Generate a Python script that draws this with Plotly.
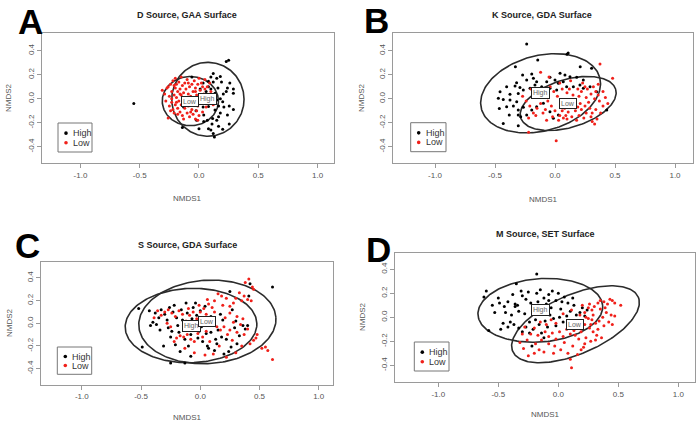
import numpy as np
import plotly.graph_objects as go

W, H = 700, 424
FONT = "Liberation Sans, Arial, sans-serif"

titles = ["D Source, GAA Surface", "K Source, GDA Surface",
          "S Source, GDA Surface", "M Source, SET Surface"]
letters = ["A", "B", "C", "D"]
groups = ["High", "Low"]
x_ticks = [-1.0, -0.5, 0.0, 0.5, 1.0]
y_ticks = [-0.4, -0.2, 0.0, 0.2, 0.4]

# ---------------- data (NMDS1, NMDS2) ----------------
a_high = [(-0.55, -0.04), (0.23, 0.31), (0.25, 0.32), (0.12, 0.21), (0.10, 0.18), (0.15, 0.17),
          (0.12, 0.14), (0.19, 0.14), (0.26, 0.13), (0.29, 0.08), (0.24, 0.09), (0.16, 0.09),
          (0.08, 0.10), (0.06, 0.06), (0.135, 0.045), (0.18, 0.0), (0.20, -0.025), (0.165, -0.06),
          (0.21, -0.07), (0.255, -0.06), (0.29, -0.09), (0.24, -0.135), (0.18, -0.12), (0.135, -0.095),
          (0.15, -0.18), (0.11, -0.21), (0.04, -0.135), (0.07, -0.18), (0.0, -0.25), (0.08, -0.25),
          (0.10, -0.26), (0.165, -0.23), (0.20, -0.255), (0.255, -0.21), (0.12, -0.29), (0.13, -0.32),
          (-0.14, -0.24), (-0.06, 0.18), (-0.13, -0.07), (-0.06, -0.045), (0.035, -0.07), (0.08, -0.065),
          (0.065, -0.01), (0.105, -0.025), (0.01, 0.08), (0.035, 0.13), (0.08, 0.145), (0.18, 0.185),
          (0.23, 0.06), (0.15, -0.01), (0.205, 0.04), (0.10, 0.08), (0.115, -0.165), (0.04, -0.19),
          (0.29, 0.045), (-0.025, -0.10), (0.12, 0.015), (0.165, -0.15), (-0.02, -0.18), (0.05, 0.02)]
a_low = [(-0.31, 0.07), (-0.29, 0.04), (-0.27, 0.09), (-0.26, -0.16), (-0.25, 0.02), (-0.25, -0.06),
         (-0.24, 0.12), (-0.23, 0.06), (-0.23, -0.03), (-0.22, -0.09), (-0.22, 0.15), (-0.21, 0.03),
         (-0.21, -0.12), (-0.20, 0.09), (-0.20, -0.05), (-0.19, 0.12), (-0.19, 0.01), (-0.18, -0.08),
         (-0.18, 0.06), (-0.17, -0.02), (-0.17, 0.14), (-0.16, 0.08), (-0.16, -0.11), (-0.15, 0.03),
         (-0.15, -0.05), (-0.14, 0.11), (-0.14, -0.14), (-0.13, 0.05), (-0.13, -0.03), (-0.12, 0.13),
         (-0.12, -0.08), (-0.11, 0.01), (-0.11, 0.08), (-0.10, -0.12), (-0.10, 0.16), (-0.09, 0.04),
         (-0.09, -0.06), (-0.08, 0.10), (-0.08, -0.15), (-0.07, 0.02), (-0.07, -0.02), (-0.06, 0.12),
         (-0.06, -0.09), (-0.05, 0.06), (-0.05, -0.13), (-0.04, 0.15), (-0.04, -0.04), (-0.03, 0.09),
         (-0.03, -0.17), (-0.02, 0.03), (-0.02, -0.10), (-0.01, 0.12), (-0.01, -0.06), (0.00, 0.17),
         (0.00, -0.14), (0.01, 0.07), (0.02, -0.02), (0.02, 0.13), (0.03, -0.11), (0.04, 0.04),
         (0.05, 0.16), (0.06, -0.07), (0.07, 0.10), (0.08, -0.03), (0.10, 0.06), (0.12, -0.05),
         (-0.24, -0.10), (-0.26, 0.10), (-0.20, 0.17), (-0.18, -0.13), (-0.15, 0.18), (-0.13, -0.17),
         (-0.11, -0.02), (-0.09, 0.13), (-0.07, -0.11), (-0.05, 0.00), (-0.03, 0.06), (-0.16, 0.04),
         (-0.14, -0.01), (-0.19, -0.03), (-0.21, 0.11), (0.05, 0.08), (-0.01, -0.18), (0.09, 0.13),
         (-0.28, -0.02), (-0.23, 0.00), (0.03, 0.10)]

b_high = [(-0.236, 0.455), (0.11, 0.38), (0.10, 0.37), (-0.144, 0.322), (-0.33, 0.267), (0.21, 0.267),
          (0.305, 0.253), (-0.27, 0.197), (-0.194, 0.205), (-0.18, 0.17), (-0.236, 0.155),
          (-0.32, 0.133), (-0.333, 0.106), (-0.292, 0.094), (-0.403, 0.10), (-0.458, 0.058),
          (-0.375, 0.036), (-0.306, 0.044), (-0.264, 0.072), (-0.208, 0.086), (-0.167, 0.114),
          (-0.153, 0.142), (0.042, 0.211), (0.083, 0.197), (0.125, 0.183), (0.181, 0.178),
          (-0.042, 0.178), (0.0, 0.156), (0.028, 0.128), (0.069, 0.142), (-0.069, 0.142),
          (-0.111, 0.10), (-0.042, 0.086), (0.014, 0.072), (0.097, 0.10), (0.153, 0.10),
          (0.208, 0.114), (0.236, 0.086), (-0.472, 0.003), (-0.431, -0.006), (-0.375, -0.011),
          (-0.319, -0.025), (-0.464, -0.081), (-0.403, -0.067), (-0.347, -0.061), (-0.306, -0.094),
          (-0.264, -0.072), (-0.381, -0.136), (-0.306, -0.136), (-0.431, -0.206), (-0.306, -0.225),
          (-0.286, -0.15), (-0.236, -0.136), (-0.194, -0.094), (-0.153, -0.067), (-0.097, -0.039),
          (-0.042, -0.108), (-0.014, -0.164), (0.028, -0.136), (0.069, -0.053), (0.139, -0.011),
          (0.431, -0.094), (0.292, 0.10), (0.347, 0.058), (0.236, 0.156)]
b_low = [(0.375, 0.29), (0.48, 0.17), (0.01, -0.35), (-0.22, -0.28), (0.33, -0.21), (0.31, -0.19),
         (0.35, -0.17), (0.30, -0.15), (0.38, -0.12), (0.34, -0.09), (0.40, -0.06), (0.42, 0.01),
         (0.40, 0.06), (0.36, 0.03), (0.33, 0.00), (0.30, 0.04), (0.27, 0.08), (0.25, 0.10),
         (0.22, 0.06), (0.20, 0.02), (0.28, -0.03), (0.25, -0.06), (0.22, -0.09), (0.26, -0.12),
         (0.20, -0.14), (0.17, -0.10), (0.15, -0.06), (0.12, -0.02), (0.10, 0.05), (0.06, 0.08),
         (0.04, 0.13), (0.02, 0.02), (0.05, -0.04), (0.08, -0.08), (0.11, -0.11), (0.14, -0.15),
         (0.10, -0.17), (0.04, -0.14), (0.00, -0.10), (-0.03, -0.06), (-0.06, -0.02), (-0.09, 0.02),
         (-0.12, -0.04), (-0.15, -0.08), (-0.18, -0.12), (-0.21, -0.06), (-0.24, -0.02), (-0.27, 0.02),
         (-0.22, -0.16), (-0.16, -0.14), (-0.10, -0.12), (-0.07, -0.18), (-0.02, -0.15), (0.03, -0.18),
         (0.07, -0.16), (0.16, -0.03), (0.19, 0.08), (0.23, 0.13), (0.13, 0.15), (-0.05, 0.18),
         (-0.12, 0.22), (0.32, 0.10), (0.18, -0.18), (0.24, -0.16), (0.29, -0.08), (0.37, -0.02),
         (0.44, -0.04), (0.36, 0.12), (0.12, 0.08), (-0.01, 0.06), (-0.04, 0.10), (-0.08, -0.09),
         (0.06, -0.10), (0.21, -0.04), (0.31, -0.12), (0.26, 0.01), (0.15, 0.03), (-0.17, 0.04),
         (-0.20, 0.08), (0.09, -0.14), (0.19, -0.07), (0.34, 0.06)]

c_high = [(0.61, 0.32), (-0.49, -0.21), (-0.52, 0.13), (-0.25, -0.35), (-0.13, -0.35), (-0.08, -0.29),
          (-0.43, 0.11), (-0.40, 0.01), (-0.37, -0.01), (-0.34, -0.06), (-0.38, 0.09), (-0.33, 0.12),
          (-0.30, 0.08), (-0.28, 0.03), (-0.27, -0.04), (-0.25, -0.12), (-0.23, 0.10), (-0.22, 0.16),
          (-0.20, 0.05), (-0.19, -0.02), (-0.18, -0.08), (-0.16, 0.12), (-0.15, 0.03), (-0.14, -0.06),
          (-0.13, -0.14), (-0.12, 0.18), (-0.11, 0.09), (-0.10, -0.03), (-0.09, 0.01), (-0.08, -0.10),
          (-0.06, 0.14), (-0.05, -0.05), (-0.04, 0.18), (-0.03, 0.07), (-0.02, -0.13), (0.00, 0.11),
          (0.01, -0.03), (0.02, -0.16), (0.04, 0.15), (0.06, -0.20), (0.07, -0.22), (0.09, -0.08),
          (0.10, 0.05), (0.12, -0.24), (0.14, -0.18), (0.15, -0.06), (0.17, 0.08), (0.18, -0.12),
          (0.20, -0.27), (0.22, -0.14), (0.25, 0.28), (0.26, -0.21), (0.27, 0.12), (0.29, -0.04),
          (0.31, -0.18), (0.33, -0.11), (0.36, -0.02), (0.40, -0.02), (0.41, 0.24), (0.42, 0.35),
          (0.38, -0.05), (-0.31, -0.20), (-0.21, -0.19), (-0.17, -0.25), (-0.10, -0.20), (-0.26, 0.14),
          (-0.35, 0.05), (-0.24, -0.07), (0.05, -0.09), (0.13, -0.14), (0.24, -0.25), (0.09, 0.06),
          (-0.07, 0.04), (-0.01, -0.07), (-0.42, -0.02), (0.30, 0.02), (0.19, 0.03)]
c_low = [(0.41, 0.39), (0.38, 0.36), (0.44, 0.32), (0.43, 0.20), (0.40, 0.21), (0.37, 0.24),
         (0.35, 0.20), (0.33, 0.27), (0.30, 0.22), (0.28, 0.18), (0.25, 0.15), (0.22, 0.22),
         (0.18, 0.24), (0.15, 0.26), (0.12, 0.20), (0.10, 0.14), (0.07, 0.17), (0.05, 0.08),
         (0.03, 0.13), (0.00, 0.10), (-0.03, 0.04), (-0.06, 0.10), (-0.09, 0.07), (-0.12, 0.02),
         (-0.15, 0.08), (-0.18, 0.11), (-0.21, 0.06), (-0.24, 0.09), (-0.27, 0.12), (-0.30, 0.10),
         (-0.33, 0.07), (-0.36, 0.11), (-0.39, 0.05), (-0.28, 0.00), (-0.25, -0.03), (-0.20, -0.13),
         (-0.17, -0.11), (-0.14, -0.12), (-0.11, -0.10), (-0.08, -0.14), (-0.05, -0.16), (-0.02, -0.09),
         (0.02, -0.12), (0.05, -0.07), (0.08, -0.02), (0.11, 0.00), (0.14, -0.03), (0.17, -0.06),
         (0.20, -0.03), (0.23, -0.10), (0.25, -0.06), (0.28, 0.01), (0.31, -0.08), (0.34, -0.01),
         (0.37, -0.10), (0.40, -0.05), (0.45, -0.15), (0.47, -0.13), (0.42, -0.18), (0.52, -0.22),
         (0.55, -0.21), (0.57, -0.24), (0.61, -0.32), (0.35, -0.20), (0.30, -0.26), (0.22, -0.30),
         (0.11, -0.27), (0.04, -0.28), (-0.05, -0.26), (-0.13, -0.22), (-0.22, -0.16), (0.16, -0.20),
         (0.21, 0.05), (0.31, 0.06), (0.36, 0.04), (0.12, 0.10), (-0.01, 0.16), (0.06, 0.21),
         (0.19, 0.16), (0.25, 0.09), (0.45, 0.30), (0.48, -0.10), (-0.10, 0.13), (0.08, -0.16),
         (0.27, -0.15)]

d_high = [(-0.18, 0.36), (-0.60, 0.22), (-0.62, 0.17), (-0.58, -0.11), (-0.35, 0.28), (-0.22, -0.24),
          (-0.50, 0.16), (-0.49, 0.12), (-0.45, 0.09), (-0.42, 0.13), (-0.38, 0.19), (-0.36, 0.11),
          (-0.36, 0.09), (-0.34, 0.10), (-0.33, 0.05), (-0.30, 0.18), (-0.27, 0.15), (-0.25, 0.21),
          (-0.23, 0.12), (-0.20, 0.09), (-0.18, 0.20), (-0.15, 0.23), (-0.12, 0.16), (-0.10, 0.11),
          (-0.08, 0.19), (-0.05, 0.22), (-0.02, 0.14), (0.00, 0.20), (0.02, 0.07), (0.05, 0.17),
          (0.08, 0.12), (0.10, 0.05), (0.13, 0.10), (0.15, 0.02), (0.18, 0.04), (0.20, 0.08),
          (0.22, 0.01), (-0.46, -0.05), (-0.42, -0.08), (-0.40, -0.04), (-0.37, -0.06), (-0.33, -0.09),
          (-0.30, -0.12), (-0.27, -0.08), (-0.24, -0.04), (-0.21, -0.10), (-0.19, -0.02), (-0.16, -0.06),
          (-0.14, -0.13), (-0.11, -0.03), (-0.09, -0.08), (-0.07, 0.02), (-0.04, -0.01), (-0.02, -0.07),
          (0.01, 0.00), (0.04, -0.04), (-0.53, 0.04), (-0.48, -0.10), (-0.55, 0.10), (-0.28, 0.03),
          (-0.13, 0.05), (-0.06, 0.08), (0.12, 0.16), (-0.39, 0.02), (-0.31, 0.22), (0.07, 0.01),
          (-0.17, 0.13), (-0.24, -0.13), (-0.12, -0.17), (0.03, 0.13), (-0.44, 0.04), (-0.08, 0.14),
          (0.24, 0.06)]
d_low = [(0.11, -0.42), (0.52, 0.10), (0.45, 0.14), (0.43, 0.15), (0.47, 0.12), (0.41, 0.11),
         (0.38, 0.13), (0.35, 0.14), (0.33, 0.12), (0.30, 0.09), (0.28, 0.06), (0.25, 0.08),
         (0.22, 0.04), (0.20, 0.10), (0.40, 0.04), (0.44, 0.02), (0.47, 0.01), (0.37, 0.00),
         (0.34, -0.03), (0.31, -0.05), (0.28, -0.02), (0.25, -0.01), (0.22, -0.06), (0.26, -0.09),
         (0.29, -0.12), (0.33, -0.10), (0.38, -0.07), (0.42, -0.04), (0.45, -0.06), (0.36, -0.17),
         (0.31, -0.19), (0.27, -0.20), (0.23, -0.17), (0.19, -0.12), (0.16, -0.08), (0.13, -0.11),
         (0.10, -0.14), (0.07, -0.10), (0.04, -0.16), (0.01, -0.12), (-0.02, -0.18), (-0.05, -0.13),
         (-0.08, -0.16), (-0.11, -0.12), (-0.14, -0.19), (-0.17, -0.15), (-0.20, -0.09), (-0.23, -0.14),
         (-0.26, -0.19), (-0.29, -0.26), (-0.32, -0.21), (-0.28, -0.08), (-0.25, -0.32), (-0.20, -0.30),
         (-0.16, -0.27), (-0.12, -0.29), (-0.08, -0.22), (-0.03, -0.24), (0.02, -0.27), (0.05, -0.21),
         (0.08, -0.30), (0.12, -0.24), (0.16, -0.31), (0.19, -0.27), (0.22, -0.22), (0.14, -0.03),
         (0.18, 0.02), (0.08, -0.04), (-0.10, -0.06), (-0.06, -0.02), (-0.02, -0.05), (0.04, 0.03),
         (-0.15, -0.04), (0.11, 0.06), (0.26, 0.11), (0.21, -0.25), (-0.30, -0.14), (-0.19, -0.22),
         (0.29, 0.02), (0.35, 0.07), (0.32, -0.15), (0.17, -0.18), (0.23, 0.00), (0.27, -0.06),
         (0.39, 0.08), (-0.04, -0.30), (0.10, -0.35), (0.14, -0.15)]

# ellipse (centre x, centre y, semi-axis a, semi-axis b, angle deg) per group
a_ell = {"High": (0.075, -0.005, 0.305, 0.308, 0.0), "Low": (-0.073, -0.02, 0.237, 0.205, 0.0)}
b_ell = {"High": (-0.12, 0.045, 0.51, 0.314, 14.8), "Low": (0.11, -0.04, 0.413, 0.20, 16.7)}
c_ell = {"High": (-0.078, -0.02, 0.556, 0.328, 2.0), "Low": (0.06, 0.012, 0.58, 0.368, 4.0)}
d_ell = {"High": (-0.15, 0.058, 0.521, 0.264, 4.4), "Low": (0.143, -0.058, 0.57, 0.247, 23.4)}

panels_points = [(a_high, a_low), (b_high, b_low), (c_high, c_low), (d_high, d_low)]
panels_ell = [a_ell, b_ell, c_ell, d_ell]

# ---------------- layout geometry (pixels) ----------------
boxes = [(41.7, 334.0, 33.0, 163.0), (393.3, 693.3, 33.0, 163.0),
         (40.7, 333.3, 262.0, 384.7), (395.0, 695.0, 252.7, 382.0)]
xranges = [[-1.327, 1.139], [-1.3475, 1.1525], [-1.347, 1.123], [-1.361, 1.139]]
yranges = [[-0.536, 0.5475], [-0.536, 0.5475], [-0.542, 0.541], [-0.539, 0.538]]
title_pos = [(187, 15), (542, 15), (187, 245), (545, 234)]
letter_pos = [(31, 21), (376, 20.5), (27, 245), (378, 249)]
xlab_pos = [(187, 198), (543, 199), (187, 417), (545, 414)]
ylab_pos = [(8, 98), (361, 98), (9, 323), (362, 317)]
legend_box = [(58, 92, 123, 152), (410.7, 446, 122.7, 151.7),
              (57.3, 91.7, 347, 374.3), (414.3, 449, 342, 371)]

colors = {"High": "black", "Low": "#f0201a"}

def px(x):
    return x / W

def py(y):
    return 1 - y / H

fig = go.Figure()
layout = dict(width=W, height=H, margin=dict(l=0, r=0, t=0, b=0),
              paper_bgcolor="white", plot_bgcolor="white", showlegend=False,
              font=dict(family=FONT, color="#444"))
annotations = []
shapes = []
t = np.linspace(0, 2 * np.pi, 200)

def note(x, y, text, size, color, **kw):
    d = dict(x=px(x), y=py(y), xref="paper", yref="paper", text=text, showarrow=False,
             xanchor="center", yanchor="middle", font=dict(size=size, color=color))
    d.update(kw)
    annotations.append(d)

for i in range(4):
    sfx = "" if i == 0 else str(i + 1)
    xa, ya = "x" + sfx, "y" + sfx
    l, r, tp, bt = boxes[i]
    axstyle = dict(showgrid=False, zeroline=False, showline=True, mirror=True,
                   linecolor="#9a9a9a", linewidth=1, ticks="outside", ticklen=4,
                   tickcolor="#9a9a9a", tickfont=dict(size=8, color="#555"))
    layout["xaxis" + sfx] = dict(domain=[px(l), px(r)], range=xranges[i], anchor=ya,
                                 tickvals=x_ticks, ticktext=[f"{v:.1f}" for v in x_ticks], **axstyle)
    layout["yaxis" + sfx] = dict(domain=[py(bt), py(tp)], range=yranges[i], anchor=xa,
                                 tickvals=y_ticks, ticktext=[f"{v:.1f}" for v in y_ticks],
                                 tickangle=-90, **axstyle)
    hi, lo = panels_points[i]
    for g in groups:
        cx, cy, a, b, ang = panels_ell[i][g]
        th = np.deg2rad(ang)
        ex = cx + a * np.cos(t) * np.cos(th) - b * np.sin(t) * np.sin(th)
        ey = cy + a * np.cos(t) * np.sin(th) + b * np.sin(t) * np.cos(th)
        fig.add_trace(go.Scatter(x=ex, y=ey, mode="lines", xaxis=xa, yaxis=ya,
                                 line=dict(color="#2b2b2b", width=1.6), hoverinfo="skip"))
    for g, pts in zip(groups, (hi, lo)):
        fig.add_trace(go.Scatter(x=[p[0] for p in pts], y=[p[1] for p in pts], mode="markers",
                                 xaxis=xa, yaxis=ya, name=g,
                                 marker=dict(size=3, color=colors[g], line=dict(width=0))))
    for g in groups:
        cx, cy = panels_ell[i][g][:2]
        annotations.append(dict(x=cx, y=cy, xref=xa, yref=ya, text=g, showarrow=False,
                                xanchor="center", yanchor="middle",
                                font=dict(size=7, color="#666"), bgcolor="white",
                                bordercolor="#222", borderwidth=1, borderpad=1))
    tx, ty = title_pos[i]
    note(tx, ty, "<b>" + titles[i] + "</b>", 9, "#222")
    lx, ly = letter_pos[i]
    note(lx, ly, "<b>" + letters[i] + "</b>", 35, "black")
    ax_, ay_ = xlab_pos[i]
    note(ax_, ay_, "NMDS1", 8, "#555")
    bx_, by_ = ylab_pos[i]
    note(bx_, by_, "NMDS2", 8, "#555", textangle=-90)
    gl, gr, gt, gb = legend_box[i]
    shapes.append(dict(type="rect", xref="paper", yref="paper", x0=px(gl), x1=px(gr), y0=py(gb), y1=py(gt),
                       line=dict(color="#777", width=1), fillcolor="white"))
    rows = [gt + (gb - gt) * 0.35, gt + (gb - gt) * 0.68]
    for g, ry in zip(groups, rows):
        dx = gl + 8
        shapes.append(dict(type="circle", xref="paper", yref="paper",
                           x0=px(dx - 1.8), x1=px(dx + 1.8), y0=py(ry + 1.8), y1=py(ry - 1.8),
                           fillcolor=colors[g], line=dict(width=0)))
        note(dx + 5, ry, g, 9, "#333", xanchor="left")

layout["annotations"] = annotations
layout["shapes"] = shapes
fig.update_layout(**layout)
fig.write_html("out.html", config={"displayModeBar": False},
               post_script="document.body.style.margin='0px';document.body.style.overflow='hidden';")
